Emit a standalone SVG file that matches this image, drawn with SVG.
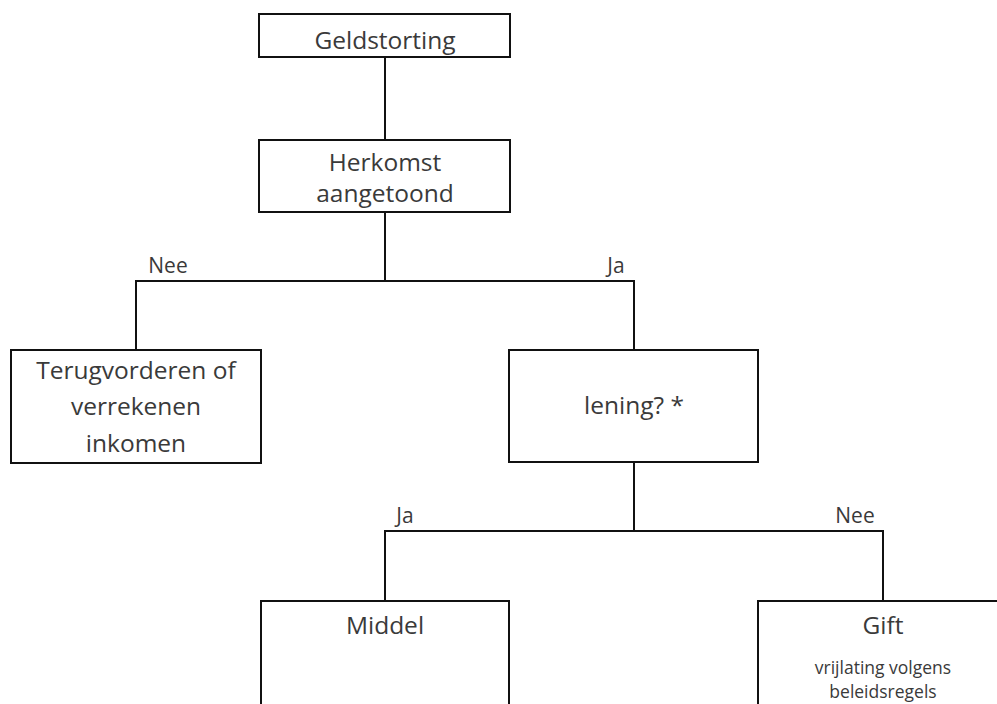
<svg xmlns="http://www.w3.org/2000/svg" width="997" height="704" viewBox="0 0 997 704">
<style>
rect{fill:#fff;stroke:#111;stroke-width:2}
.c{fill:none;stroke:#111;stroke-width:2}
text{font-family:"Open Sans","Liberation Sans",sans-serif;fill:#3a3a3a;text-anchor:middle}
.m{font-size:24.5px}
.l{font-size:21px}
.s{font-size:17.5px}
</style>
<rect width="997" height="704" style="fill:#fff;stroke:none"/>
<g id="connectors">
<path class="c" d="M385 57V140"/>
<path class="c" d="M385 212V281M136 350V281H634V350"/>
<path class="c" d="M634 462V531M385 601V531H883V601"/>
</g>
<g id="labels">
<text class="l" x="168" y="273">Nee</text>
<text class="l" x="616" y="273">Ja</text>
<text class="l" x="405" y="523">Ja</text>
<text class="l" x="855" y="523">Nee</text>
</g>
<g id="geldstorting"><rect x="259" y="14" width="251" height="43"/><text class="m" x="385" y="49">Geldstorting</text></g>
<g id="herkomst"><rect x="259" y="140" width="251" height="72"/><text class="m" x="385" y="171">Herkomst</text><text class="m" x="385" y="202">aangetoond</text></g>
<g id="terugvorderen"><rect x="11" y="350" width="250" height="113"/><text class="m" x="136" y="379">Terugvorderen of</text><text class="m" x="136" y="415">verrekenen</text><text class="m" x="136" y="452">inkomen</text></g>
<g id="lening"><rect x="509" y="350" width="249" height="112"/><text class="m" x="634" y="414">lening? *</text></g>
<g id="middel"><rect x="261" y="601" width="248" height="120"/><text class="m" x="385" y="634">Middel</text></g>
<g id="gift"><rect x="758" y="601" width="260" height="120"/><text class="m" x="883" y="634">Gift</text><text class="s" x="883" y="674">vrijlating volgens</text><text class="s" x="883" y="698">beleidsregels</text></g>
</svg>
